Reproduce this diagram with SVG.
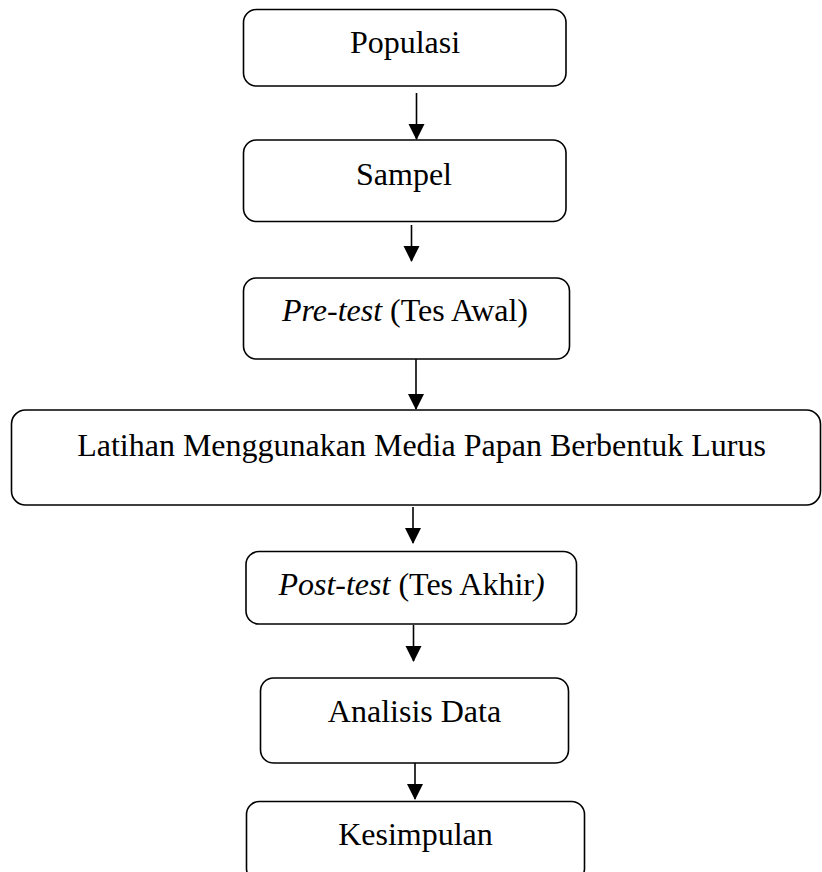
<svg xmlns="http://www.w3.org/2000/svg" width="822" height="872" viewBox="0 0 822 872">
<style>
.box{fill:#fff;stroke:#000;stroke-width:1.6}
.t{font-family:"Liberation Serif","Times New Roman",serif;font-size:32px;fill:#000;text-anchor:middle}
.c{stroke:#000;stroke-width:1.6;fill:none}
</style>
<defs>
<marker id="ah" markerUnits="userSpaceOnUse" markerWidth="16" markerHeight="17" refX="15" refY="8" orient="auto">
<path d="M0,0 L16,8 L0,16 Z" fill="#000"/>
</marker>
</defs>
<rect width="822" height="872" fill="#fff"/>
<g id="connectors">
<line class="c" x1="416.5" y1="93" x2="416.5" y2="139" marker-end="url(#ah)"/>
<line class="c" x1="411.5" y1="225" x2="411.5" y2="261" marker-end="url(#ah)"/>
<line class="c" x1="416" y1="359" x2="416" y2="409" marker-end="url(#ah)"/>
<line class="c" x1="413" y1="507" x2="413" y2="543" marker-end="url(#ah)"/>
<line class="c" x1="413.5" y1="625" x2="413.5" y2="661" marker-end="url(#ah)"/>
<line class="c" x1="415" y1="763" x2="415" y2="799" marker-end="url(#ah)"/>
</g>
<g id="populasi">
<rect class="box" x="243.5" y="9.5" width="322.5" height="76.5" rx="13"/>
<text class="t" x="405" y="53">Populasi</text>
</g>
<g id="sampel">
<rect class="box" x="243.5" y="140" width="322.5" height="81.5" rx="13"/>
<text class="t" x="404" y="185">Sampel</text>
</g>
<g id="pretest">
<rect class="box" x="243.5" y="278" width="326" height="81" rx="13"/>
<text class="t" x="405" y="320.5"><tspan font-style="italic">Pre-test</tspan> (Tes Awal)</text>
</g>
<g id="latihan">
<rect class="box" x="11.5" y="410" width="809" height="95" rx="14"/>
<text class="t" x="421.5" y="456">Latihan Menggunakan Media Papan Berbentuk Lurus</text>
</g>
<g id="posttest">
<rect class="box" x="246" y="551.5" width="330.5" height="72.5" rx="13"/>
<text class="t" x="411.5" y="595"><tspan font-style="italic">Post-test</tspan> (Tes Akhir<tspan font-style="italic">)</tspan></text>
</g>
<g id="analisis">
<rect class="box" x="260.5" y="678" width="308" height="85" rx="13"/>
<text class="t" x="414.5" y="721.5">Analisis Data</text>
</g>
<g id="kesimpulan">
<rect class="box" x="246.5" y="801.5" width="338" height="80" rx="13"/>
<text class="t" x="415.5" y="845">Kesimpulan</text>
</g>
</svg>
